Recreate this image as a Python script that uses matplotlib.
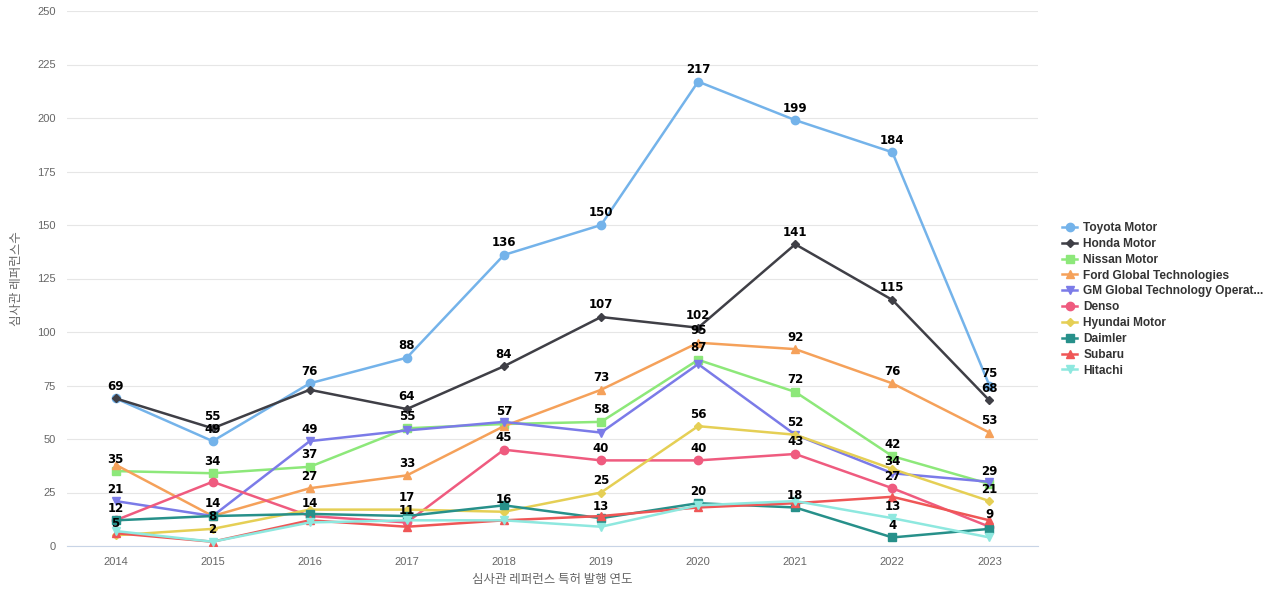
import matplotlib
matplotlib.use("Agg")
import matplotlib.pyplot as plt

plt.rcParams['font.family'] = ['Noto Sans CJK KR', 'DejaVu Sans']

# Data
years = ["2014", "2015", "2016", "2017", "2018", "2019", "2020", "2021", "2022", "2023"]
toyota = [69, 49, 76, 88, 136, 150, 217, 199, 184, 75]
honda = [69, 55, 73, 64, 84, 107, 102, 141, 115, 68]
nissan = [35, 34, 37, 55, 57, 58, 87, 72, 42, 29]
ford = [38, 14, 27, 33, 56, 73, 95, 92, 76, 53]
gm = [21, 14, 49, 54, 58, 53, 85, 52, 34, 30]
denso = [12, 30, 14, 11, 45, 40, 40, 43, 27, 9]
hyundai = [5, 8, 17, 17, 16, 25, 56, 52, 36, 21]
daimler = [12, 14, 15, 14, 19, 13, 20, 18, 4, 8]
subaru = [6, 2, 12, 9, 12, 14, 18, 20, 23, 12]
hitachi = [7, 2, 11, 12, 12, 9, 19, 21, 13, 4]

names = ["Toyota Motor", "Honda Motor", "Nissan Motor", "Ford Global Technologies",
         "GM Global Technology Operat...", "Denso", "Hyundai Motor", "Daimler",
         "Subaru", "Hitachi"]
series = [toyota, honda, nissan, ford, gm, denso, hyundai, daimler, subaru, hitachi]
colors = ["#74b3ea", "#3f3f46", "#8de87a", "#f5a15a", "#7b7be8",
          "#ef5b7f", "#e5cf55", "#27908a", "#ef5656", "#8ee8df"]
markers = ["o", "D", "s", "^", "v", "o", "D", "s", "^", "v"]
msizes = [6, 4, 6, 6, 6, 6, 4, 6, 6, 6]

fig = plt.figure(figsize=(12.8, 6), dpi=100)
ax = fig.add_axes([67 / 1280, 54 / 600, (1038 - 67) / 1280, (546 - 11) / 600])

x = list(range(len(years)))
handles = []
for name, vals, c, m, ms in zip(names, series, colors, markers, msizes):
    h, = ax.plot(x, vals, color=c, marker=m, markersize=ms, linewidth=1.8, label=name, zorder=3)
    handles.append(h)

# value labels, hiding ones that would overlap an already placed label
placed = {i: [] for i in x}
for vals in series:
    for i, v in zip(x, vals):
        if any(abs(v - p) < 5.5 for p in placed[i]):
            continue
        placed[i].append(v)
        ax.annotate(str(v), (i, v), xytext=(0, 4), textcoords="offset points",
                    ha="center", va="bottom", fontsize=8.5, fontweight="bold",
                    color="black", zorder=5, family=['DejaVu Sans'])

ax.set_xlim(-0.5, len(years) - 0.5)
ax.set_ylim(0, 250)
ax.set_yticks(range(0, 251, 25))
ax.set_xticks(x)
ax.set_xticklabels(years)
ax.tick_params(axis="both", length=0, labelsize=8, colors="#666666", pad=8)
for lbl in ax.get_xticklabels() + ax.get_yticklabels():
    lbl.set_family(['Liberation Sans', 'DejaVu Sans'])
ax.grid(axis="y", color="#e6e6e6", linewidth=0.8)
ax.set_axisbelow(True)
for side in ["top", "right", "left"]:
    ax.spines[side].set_visible(False)
ax.spines["bottom"].set_color("#c8d4e6")

ax.set_xlabel("심사관 레퍼런스 특허 발행 연도", fontsize=9, color="#666666", labelpad=4)
ax.set_ylabel("심사관 레퍼런스수", fontsize=9, color="#666666", labelpad=10)

leg = fig.legend(handles=handles, loc="center left", bbox_to_anchor=(1057 / 1280, 0.501),
                 frameon=False, fontsize=8.6, handlelength=1.3, handletextpad=0.5,
                 labelspacing=0.32, borderaxespad=0)
for t in leg.get_texts():
    t.set_fontweight("bold")
    t.set_color("#333333")
    t.set_family(['Liberation Sans', 'DejaVu Sans'])

fig.savefig("out.png", dpi=100)
